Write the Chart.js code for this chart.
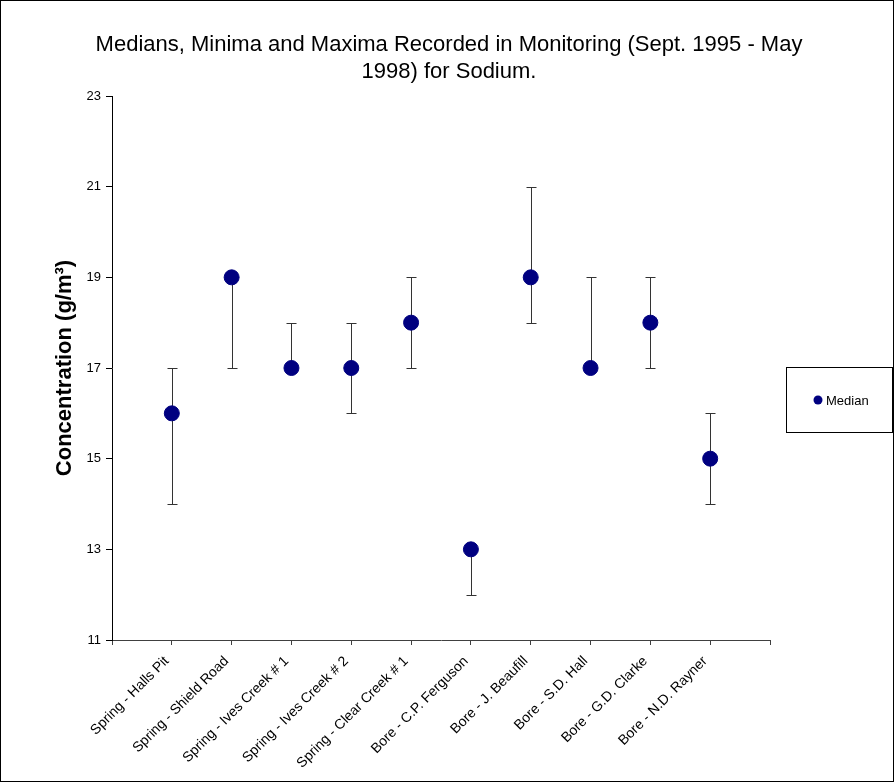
<!DOCTYPE html>
<html lang="en">
<head>
  <meta charset="UTF-8" />
  <title>Sodium monitoring</title>
  <style>
    html, body { margin: 0; padding: 0; background: #fff; }
    #wrap { width: 894px; height: 782px; position: relative; }
  </style>
</head>
<body>
  <div id="wrap"><canvas id="chart" width="894" height="782"></canvas></div>

  <script src="https://cdn.jsdelivr.net/npm/chart.js"></script>
  <script>
    const categories = [
      'Spring - Halls Pit', 'Spring - Shield Road', 'Spring - Ives Creek # 1',
      'Spring - Ives Creek # 2', 'Spring - Clear Creek # 1', 'Bore - C.P. Ferguson',
      'Bore - J. Beaufill', 'Bore - S.D. Hall', 'Bore - G.D. Clarke', 'Bore - N.D. Rayner'
    ];
    const medians = [16, 19, 17, 17, 18, 13, 19, 17, 18, 15];
    const minima  = [14, 17, 17, 16, 17, 12, 18, 17, 17, 14];
    const maxima  = [17, 19, 18, 18, 19, 13, 21, 19, 19, 16];
    const titleLines = ['Medians, Minima and Maxima Recorded in Monitoring (Sept. 1995 - May', '1998) for Sodium.'];

    const FONT = "'Liberation Sans', Arial, sans-serif";

    // min/max whiskers, drawn under the points
    const errorBars = {
      id: 'errorBars',
      beforeDatasetsDraw(chart) {
        const { ctx, scales: { x, y } } = chart;
        ctx.save();
        ctx.strokeStyle = '#333';
        ctx.lineWidth = 1;
        categories.forEach((c, i) => {
          const px = Math.round(x.getPixelForValue(i + 1)) + 0.5;
          const top = Math.round(y.getPixelForValue(maxima[i])) + 0.5;
          const bot = Math.round(y.getPixelForValue(minima[i])) + 0.5;
          ctx.beginPath();
          ctx.moveTo(px, top); ctx.lineTo(px, bot);
          ctx.moveTo(px - 5, top); ctx.lineTo(px + 5, top);
          ctx.moveTo(px - 5, bot); ctx.lineTo(px + 5, bot);
          ctx.stroke();
        });
        ctx.restore();
      }
    };

    // title, legend box and outer frame
    const decorations = {
      id: 'decorations',
      afterDraw(chart) {
        const { ctx } = chart;
        ctx.save();
        ctx.fillStyle = '#000';
        ctx.font = '22px ' + FONT;
        ctx.textAlign = 'center';
        ctx.textBaseline = 'middle';
        ctx.fillText(titleLines[0], 449, 45);
        ctx.fillText(titleLines[1], 449, 72);

        ctx.strokeStyle = '#000';
        ctx.lineWidth = 1;
        ctx.strokeRect(786.5, 367.5, 106, 65);
        ctx.fillStyle = '#000080';
        ctx.beginPath();
        ctx.arc(818, 400, 4.5, 0, Math.PI * 2);
        ctx.fill();
        ctx.fillStyle = '#000';
        ctx.font = '13px ' + FONT;
        ctx.textAlign = 'left';
        ctx.fillText('Median', 826, 401);

        ctx.strokeRect(0.5, 0.5, 893, 781);
        ctx.restore();
      }
    };

    new Chart(document.getElementById('chart'), {
      type: 'scatter',
      data: {
        datasets: [{
          label: 'Median',
          data: medians.map((v, i) => ({ x: i + 1, y: v })),
          backgroundColor: '#000080',
          borderColor: '#000080',
          pointRadius: 7.5,
          pointHoverRadius: 7.5
        }]
      },
      options: {
        responsive: false,
        animation: false,
        layout: { padding: { top: 96, right: 124, left: 0, bottom: 0 } },
        plugins: {
          legend: { display: false },
          tooltip: { enabled: false }
        },
        scales: {
          x: {
            type: 'linear',
            min: 0,
            max: 11,
            afterFit(s) { s.height = 142; },
            ticks: {
              stepSize: 1,
              autoSkip: false,
              minRotation: 45,
              maxRotation: 45,
              color: '#000',
              font: { family: FONT, size: 14 },
              padding: 8,
              labelOffset: -5,
              callback: v => categories[v - 1] || ''
            },
            grid: { drawOnChartArea: false, drawTicks: true, tickLength: 5, color: '#404040' },
            border: { color: '#404040', width: 1 }
          },
          y: {
            min: 11,
            max: 23,
            afterFit(s) { s.width = 112; },
            ticks: {
              stepSize: 2,
              color: '#000',
              font: { family: FONT, size: 13 },
              padding: 5
            },
            grid: { drawOnChartArea: false, drawTicks: true, tickLength: 6, color: '#000' },
            border: { color: '#000', width: 1 },
            title: {
              display: true,
              text: 'Concentration (g/m\u00B3)',
              color: '#000',
              font: { family: FONT, size: 22, weight: 'bold' },
              padding: { top: 52, bottom: 0 }
            }
          }
        }
      },
      plugins: [errorBars, decorations]
    });
  </script>
</body>
</html>
